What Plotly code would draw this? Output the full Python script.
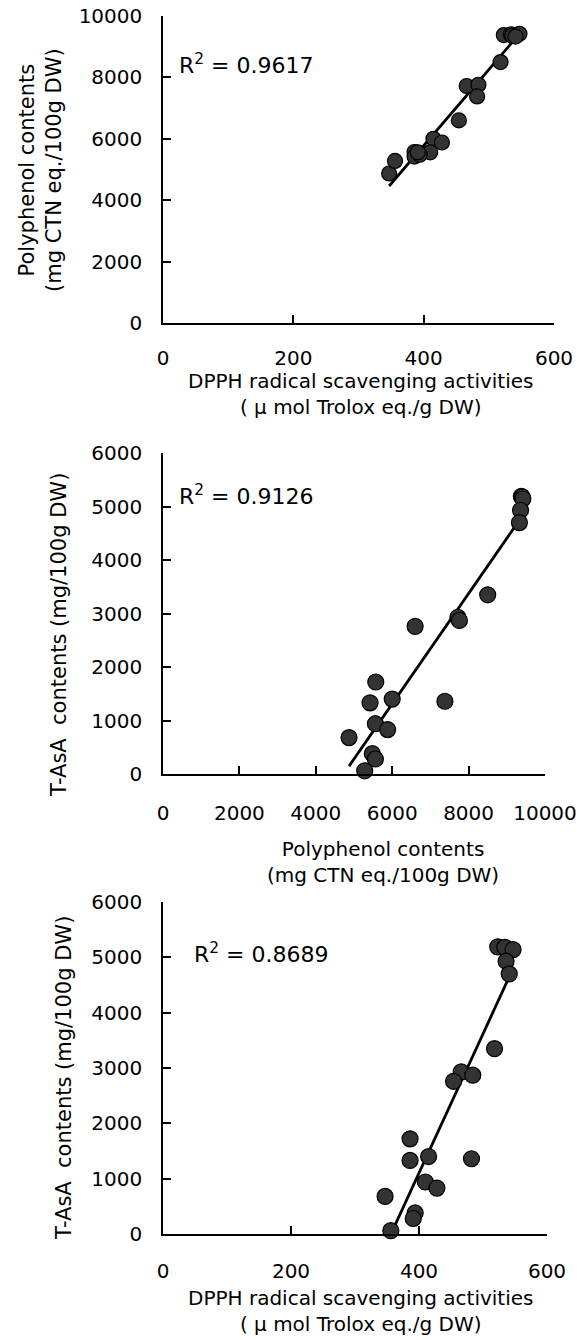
import numpy as np
import plotly.graph_objects as go

# ---- data (per sample) ----
dpph = [523, 534, 547, 536, 541, 518, 466, 484, 454, 386, 386, 415, 482, 410, 428, 347, 394, 391, 356]
polyphenol = [9380, 9400, 9420, 9360, 9330, 8500, 7720, 7760, 6600, 5570, 5420, 6000, 7380, 5560, 5880, 4870, 5480, 5560, 5280]
tasa = [5190, 5180, 5140, 4930, 4700, 3350, 2930, 2870, 2760, 1720, 1330, 1400, 1360, 940, 830, 680, 380, 280, 60]

r2_labels = ["R<sup>2</sup> = 0.9617", "R<sup>2</sup> = 0.9126", "R<sup>2</sup> = 0.8689"]
x_titles = ["DPPH radical scavenging activities<br>( \u03bc mol Trolox eq./g DW)",
            "Polyphenol contents<br>(mg CTN eq./100g DW)",
            "DPPH radical scavenging activities<br>( \u03bc mol Trolox eq./g DW)"]
y_titles = ["Polyphenol contents<br>(mg CTN eq./100g DW)",
            "T-AsA  contents (mg/100g DW)",
            "T-AsA  contents (mg/100g DW)"]
x_ranges = [[0, 600], [0, 10000], [0, 600]]
y_ranges = [[0, 10000], [0, 6000], [0, 6000]]
x_dticks = [200, 2000, 200]
y_dticks = [2000, 1000, 1000]

pairs = [(dpph, polyphenol), (polyphenol, tasa), (dpph, tasa)]

W, H = 579, 1340
FONT = "DejaVu Sans, Arial, sans-serif"

# layout in pixels: (x_left, x_right, y_top, y_bottom)
boxes = [(163, 554, 16, 323), (163, 545, 453, 774), (163, 547, 902, 1234)]
x_standoffs = [16, 20, 18]
marker_sizes = [15, 16, 16]

fig = go.Figure()
annotations = []
for i, ((xs, ys), box) in enumerate(zip(pairs, boxes)):
    n = "" if i == 0 else str(i + 1)
    xa, ya = "x" + n, "y" + n
    xs_a = np.array(xs, float)
    ys_a = np.array(ys, float)
    k, b = np.polyfit(xs_a, ys_a, 1)
    lx = np.array([xs_a.min(), xs_a.max()])
    fig.add_trace(go.Scatter(x=lx, y=k * lx + b, mode="lines",
                             line=dict(color="black", width=2.8),
                             xaxis=xa, yaxis=ya, showlegend=False))
    fig.add_trace(go.Scatter(x=xs, y=ys, mode="markers",
                             marker=dict(size=marker_sizes[i], color="#333333",
                                         line=dict(color="black", width=1.2)),
                             cliponaxis=False,
                             xaxis=xa, yaxis=ya, showlegend=False))
    x0, x1, y0, y1 = box
    axcommon = dict(showline=True, linecolor="black", linewidth=1.5,
                    ticks="inside", ticklen=8, tickwidth=1.5, tickcolor="black",
                    showgrid=False, zeroline=False, tickformat="d", automargin=False,
                    tickfont=dict(family=FONT, size=20, color="black"))
    fig.layout["xaxis" + n] = dict(axcommon, domain=[x0 / W, x1 / W],
                                   range=x_ranges[i], dtick=x_dticks[i], tick0=0,
                                   anchor=ya, ticklabelstandoff=x_standoffs[i])
    fig.layout["yaxis" + n] = dict(axcommon, domain=[1 - y1 / H, 1 - y0 / H],
                                   range=y_ranges[i], dtick=y_dticks[i], tick0=0,
                                   anchor=xa, ticklabelstandoff=15)

# R^2 labels
r2_pos = [(177, 64), (177, 495), (192, 953)]
for lab, (px, py) in zip(r2_labels, r2_pos):
    annotations.append(dict(text=lab, x=px / W, y=1 - py / H, xref="paper", yref="paper",
                            xanchor="left", yanchor="middle", showarrow=False,
                            font=dict(family=FONT, size=22, color="black")))
# x titles
xt_pos = [(360, 394), (383, 862), (360, 1311)]
for lab, (px, py) in zip(x_titles, xt_pos):
    annotations.append(dict(text=lab, x=px / W, y=1 - py / H, xref="paper", yref="paper",
                            xanchor="center", yanchor="middle", showarrow=False,
                            font=dict(family=FONT, size=20, color="black")))
# y titles
yt_pos = [(40, 170), (59, 635), (64, 1078)]
for lab, (px, py) in zip(y_titles, yt_pos):
    annotations.append(dict(text=lab, x=px / W, y=1 - py / H, xref="paper", yref="paper",
                            xanchor="center", yanchor="middle", showarrow=False, textangle=-90,
                            font=dict(family=FONT, size=21, color="black")))

fig.update_layout(width=W, height=H, margin=dict(l=0, r=0, t=0, b=0, autoexpand=False),
                  paper_bgcolor="white", plot_bgcolor="white",
                  annotations=annotations, showlegend=False)
fig.write_html("out.html", config={"displayModeBar": False})
